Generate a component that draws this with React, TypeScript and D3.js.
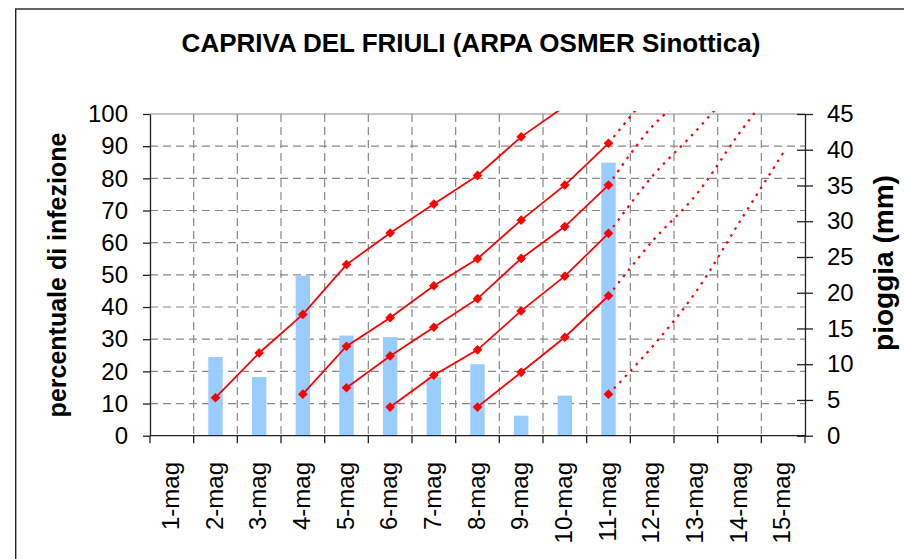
import React, { useEffect, useRef } from "react";
import * as d3 from "d3";

const giorni = ["1-mag", "2-mag", "3-mag", "4-mag", "5-mag", "6-mag", "7-mag", "8-mag", "9-mag", "10-mag", "11-mag", "12-mag", "13-mag", "14-mag", "15-mag"];

// pioggia giornaliera (mm), asse destro
const pioggia = [null, 11.0, 8.2, 22.4, 14.0, 13.8, 8.2, 10.0, 2.8, 5.6, 38.2, null, null, null, null];

// percentuale di infezione osservata (linee continue con marker)
const infezione1 = [null, 11.8, 25.7, 37.7, 53.2, 63.0, 72.0, 80.9, 92.9, 102.4, null, null, null, null, null];
const infezione2 = [null, null, null, 12.9, 27.8, 36.7, 46.6, 55.0, 67.0, 77.9, 90.9, null, null, null, null];
const infezione3 = [null, null, null, null, 14.9, 24.8, 33.7, 42.6, 55.1, 65.0, 77.9, null, null, null, null];
const infezione4 = [null, null, null, null, null, 8.9, 18.8, 26.7, 38.8, 49.6, 62.9, null, null, null, null];
const infezione5 = [null, null, null, null, null, null, null, 8.9, 19.7, 30.6, 43.5, null, null, null, null];
const infezione6 = [null, null, null, null, null, null, null, null, null, null, 12.9, null, null, null, null];

// previsione (linee punteggiate)
const previsione2 = [null, null, null, null, null, null, null, null, null, null, 90.9, 107.5, null, null, null];
const previsione3 = [null, null, null, null, null, null, null, null, null, null, 77.9, 96.1, 108.0, null, null];
const previsione4 = [null, null, null, null, null, null, null, null, null, null, 62.9, 80.6, 94.7, 110.0, null];
const previsione5 = [null, null, null, null, null, null, null, null, null, null, 43.5, 60.4, 74.8, 94.1, 112.0];
const previsione6 = [null, null, null, null, null, null, null, null, null, null, 12.9, 27.6, 44.7, 66.4, 87.9];

const osservate = [infezione1, infezione2, infezione3, infezione4, infezione5, infezione6];
const previste = [previsione2, previsione3, previsione4, previsione5, previsione6];

const leftTicks = d3.range(0, 101, 10);
const rightTicks = d3.range(0, 46, 5);

export default function App() {
  const svgRef = useRef<SVGSVGElement>(null);

  useEffect(() => {
    if (!svgRef.current) return;
    const svg = d3.select(svgRef.current);
    svg.selectAll("*").remove();

    const W = 904, H = 559;
    const plot = { left: 150, right: 805, top: 114, bottom: 435.7 };
    const font = "'Liberation Sans', Arial, sans-serif";

    svg.append("rect").attr("width", W).attr("height", H).attr("fill", "#fff");
    svg.append("rect")
      .attr("x", 15.7).attr("y", 9).attr("width", W).attr("height", H)
      .attr("fill", "none").attr("stroke", "#222").attr("stroke-width", 1.4);

    svg.append("text")
      .attr("x", 471).attr("y", 52).attr("text-anchor", "middle")
      .style("font-family", font).style("font-size", "26px").style("font-weight", "bold")
      .text("CAPRIVA DEL FRIULI (ARPA OSMER Sinottica)");

    const x = d3.scaleBand<string>().domain(giorni).range([plot.left, plot.right]);
    const yL = d3.scaleLinear().domain([0, 100]).range([plot.bottom, plot.top]);
    const yR = d3.scaleLinear().domain([0, 45]).range([plot.bottom, plot.top]);
    const cx = (i: number) => (x(giorni[i]) as number) + x.bandwidth() / 2;
    const bounds = giorni.map(g => x(g) as number).concat([plot.right]);

    // grid
    const grid = svg.append("g").attr("stroke", "#888").attr("stroke-width", 1.2);
    leftTicks.slice(1, -1).forEach(v => {
      grid.append("line").attr("x1", plot.left).attr("x2", plot.right).attr("y1", yL(v)).attr("y2", yL(v))
        .attr("stroke-dasharray", "8,5");
    });
    bounds.slice(1, -1).forEach(b => {
      grid.append("line").attr("x1", b).attr("x2", b).attr("y1", plot.top).attr("y2", plot.bottom)
        .attr("stroke-dasharray", "8,5");
    });
    grid.append("line").attr("x1", plot.left).attr("x2", plot.right).attr("y1", plot.top).attr("y2", plot.top);

    // bars
    const bw = x.bandwidth() * 0.33;
    svg.append("g").selectAll("rect")
      .data(pioggia.map((v, i) => ({ v, i })).filter(d => d.v != null))
      .join("rect")
      .attr("x", d => cx(d.i) - bw / 2).attr("width", bw)
      .attr("y", d => yR(d.v as number)).attr("height", d => plot.bottom - yR(d.v as number))
      .attr("fill", "#99CCFF");

    svg.append("clipPath").attr("id", "plotclip").append("rect")
      .attr("x", plot.left).attr("y", plot.top - 3).attr("width", plot.right - plot.left).attr("height", plot.bottom - plot.top + 3);
    const lines = svg.append("g").attr("clip-path", "url(#plotclip)");

    const pts = (arr: (number | null)[]) => arr.map((v, i) => ({ v, i })).filter(d => d.v != null) as { v: number; i: number }[];

    const dotLine = d3.line<{ v: number; i: number }>().x(d => cx(d.i)).y(d => yL(d.v)).curve(d3.curveCatmullRom.alpha(0.5));
    previste.forEach(arr => {
      lines.append("path").datum(pts(arr)).attr("d", dotLine)
        .attr("fill", "none").attr("stroke", "#FF0000").attr("stroke-width", 2.2)
        .attr("stroke-dasharray", "2.5,5.5");
    });

    const solid = d3.line<{ v: number; i: number }>().x(d => cx(d.i)).y(d => yL(d.v));
    const diamond = d3.symbol().type(d3.symbolSquare).size(34);
    osservate.forEach(arr => {
      const p = pts(arr);
      lines.append("path").datum(p).attr("d", solid)
        .attr("fill", "none").attr("stroke", "#FF0000").attr("stroke-width", 1.8);
      lines.selectAll(null).data(p).join("path")
        .attr("d", diamond)
        .attr("transform", d => `translate(${cx(d.i)},${yL(d.v)}) rotate(45)`)
        .attr("fill", "#FF0000").attr("stroke", "#FF0000").attr("stroke-width", 1);
    });

    // left axis
    const gL = svg.append("g").attr("transform", `translate(${plot.left},0)`)
      .call(d3.axisLeft(yL).tickValues(leftTicks).tickSize(7).tickSizeOuter(0).tickPadding(15).tickFormat(d3.format("d")));
    gL.select(".domain").attr("stroke", "#222").attr("stroke-width", 1.3);
    gL.selectAll(".tick line").attr("stroke", "#222").attr("stroke-width", 1.3);
    gL.selectAll("text").style("font-family", font).style("font-size", "24px").attr("fill", "#000");

    // right axis
    const gR = svg.append("g").attr("transform", `translate(${plot.right},0)`)
      .call(d3.axisRight(yR).tickValues(rightTicks).tickSize(8).tickSizeOuter(0).tickPadding(14).tickFormat(d3.format("d")));
    gR.select(".domain").attr("stroke", "#222").attr("stroke-width", 1.3);
    gR.selectAll(".tick line").attr("x1", -8).attr("stroke", "#222").attr("stroke-width", 1.3);
    gR.selectAll("text").style("font-family", font).style("font-size", "24px").attr("fill", "#000");

    // bottom axis
    const gB = svg.append("g");
    gB.append("line").attr("x1", plot.left).attr("x2", plot.right).attr("y1", plot.bottom).attr("y2", plot.bottom)
      .attr("stroke", "#222").attr("stroke-width", 1.3);
    bounds.forEach(b => {
      gB.append("line").attr("x1", b).attr("x2", b).attr("y1", plot.bottom).attr("y2", plot.bottom + 7.5)
        .attr("stroke", "#222").attr("stroke-width", 1.3);
    });
    giorni.forEach((g, i) => {
      gB.append("text")
        .attr("transform", `translate(${cx(i)},462) rotate(-90)`)
        .attr("text-anchor", "end").attr("dy", "0.3em")
        .style("font-family", font).style("font-size", "24px")
        .text(g);
    });

    // axis titles
    svg.append("text")
      .attr("transform", `translate(66,275) rotate(-90)`).attr("text-anchor", "middle")
      .style("font-family", font).style("font-size", "25px").style("font-weight", "bold")
      .text("percentuale di infezione");
    svg.append("text")
      .attr("transform", `translate(893,263) rotate(-90)`).attr("text-anchor", "middle")
      .style("font-family", font).style("font-size", "28px").style("font-weight", "bold")
      .text("pioggia (mm)");
  }, []);

  return (
    <svg ref={svgRef} width={904} height={559} style={{ position: "absolute", left: 0, top: 0 }}></svg>
  );
}
